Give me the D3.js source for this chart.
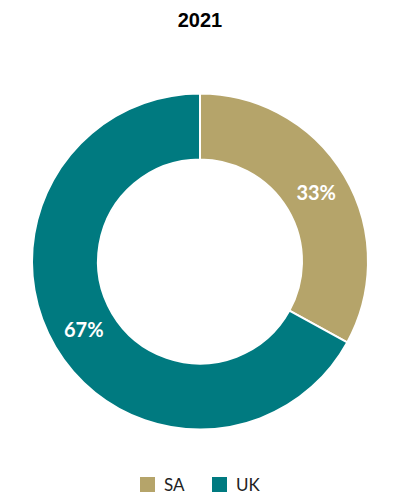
<!DOCTYPE html>
<html>
<head>
<meta charset="utf-8">
<script src="https://cdn.jsdelivr.net/npm/d3@7"></script>
<style>
  body { margin: 0; background: #fff; }
</style>
</head>
<body>
<div class="chart"></div>
<script>
var title = "2021";
var categories = ["SA", "UK"];
var values = [33, 67];
var colors = ["#b5a46a", "#007a80"];

var width = 400;
var height = 500;
var cx = 200, cy = 261.5;
var outerR = 168, innerR = 102;

var svg = d3.select('div.chart').append('svg')
    .attr('width', width)
    .attr('height', height);

svg.append('text')
  .attr('x', 200)
  .attr('y', 27)
  .attr('text-anchor', 'middle')
  .style('font-family', 'Liberation Sans, Arial, sans-serif')
  .style('font-weight', 'bold')
  .style('font-size', '20px')
  .text(title);

var color = d3.scaleOrdinal().domain(categories).range(colors);

var pie = d3.pie().sort(null).value(function (d, i) { return values[i]; });
var arcs = pie(categories);

var arc = d3.arc().innerRadius(innerR).outerRadius(outerR);

var g = svg.append('g')
    .attr('transform', 'translate(' + cx + ',' + cy + ')');

g.selectAll('path.slice')
  .data(arcs)
  .enter().append('path')
  .attr('class', 'slice')
  .attr('d', arc)
  .attr('fill', function (d) { return color(d.data); })
  .attr('stroke', '#fff')
  .attr('stroke-width', 2);

g.selectAll('text.lbl')
  .data(arcs)
  .enter().append('text')
  .attr('class', 'lbl')
  .attr('transform', function (d) { return 'translate(' + arc.centroid(d) + ')'; })
  .attr('dy', '0.35em')
  .attr('text-anchor', 'middle')
  .style('font-family', 'Lato, sans-serif')
  .style('font-weight', 'bold')
  .style('font-size', '20px')
  .attr('fill', '#fff')
  .text(function (d, i) { return values[i] + '%'; });

// legend
var legendX = d3.scalePoint().domain(categories).range([140, 212]);
var legend = svg.selectAll('g.legend')
  .data(categories)
  .enter().append('g')
  .attr('class', 'legend')
  .attr('transform', function (d) { return 'translate(' + legendX(d) + ',477)'; });

legend.append('rect')
  .attr('width', 15)
  .attr('height', 15)
  .attr('fill', function (d) { return color(d); });

legend.append('text')
  .attr('x', 24)
  .attr('y', 14)
  .style('font-family', 'Lato, sans-serif')
  .style('font-size', '17px')
  .attr('fill', '#222')
  .text(function (d) { return d; });
</script>
</body>
</html>
